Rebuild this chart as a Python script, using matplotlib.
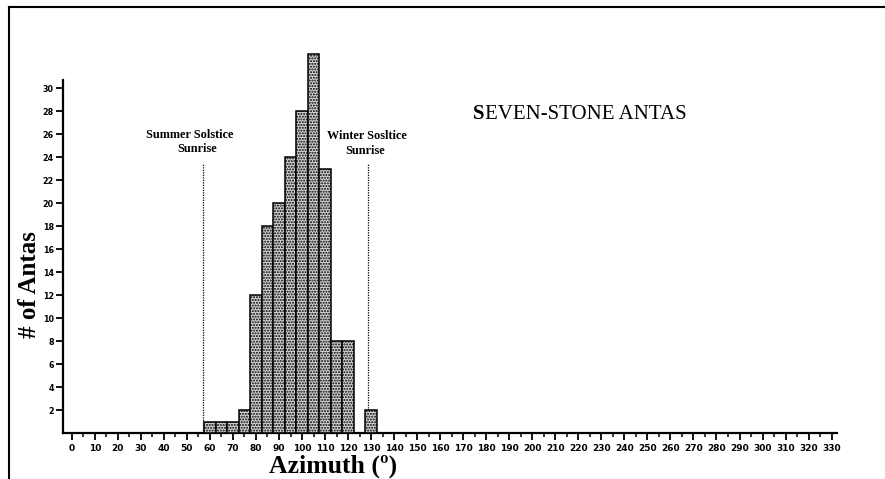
import matplotlib.pyplot as plt
import matplotlib.lines as mlines
import numpy as np

# azimuth bins (bin centres, 5 degree wide) and counts
azimuth = [60, 65, 70, 75, 80, 85, 90, 95, 100, 105, 110, 115, 120, 130]
counts = [1, 1, 1, 2, 12, 18, 20, 24, 28, 33, 23, 8, 8, 2]
bin_width = 5

x_ticks = list(range(0, 331, 10))
y_ticks = list(range(2, 31, 2))

summer_az, winter_az = 56.8, 128.6
marker_top = 23.5

serif = ['Liberation Serif', 'DejaVu Serif']

fig = plt.figure(figsize=(8.85, 4.79), dpi=100)
ax = fig.add_axes([0.0712, 0.096, 0.8742, 0.737])

ax.bar(azimuth, counts, width=bin_width, facecolor='#d4d4d4', edgecolor='black',
       linewidth=1.1, hatch='......', clip_on=False, zorder=3)

# solstice markers
ax.plot([summer_az, summer_az], [0, marker_top], color='black', lw=0.9, ls=(0, (1, 1)))
ax.plot([winter_az, winter_az], [0, marker_top], color='black', lw=0.9, ls=(0, (1, 1)))

label_kw = dict(ha='center', va='center', family=serif, fontweight='bold', fontsize=8.8)
ax.text(51.4, 25.9, 'Summer Solstice', **label_kw)
ax.text(54.6, 24.7, 'Sunrise', **label_kw)
ax.text(128.2, 25.85, 'Winter Sosltice', **label_kw)
ax.text(127.6, 24.5, 'Sunrise', **label_kw)

t = ax.text(174.3, 27.35, 'S', family=serif, fontweight='bold', fontsize=15,
            ha='left', va='baseline')
ax.annotate('EVEN-STONE ANTAS', xy=(1, 0), xycoords=t, family=serif,
            fontsize=15, ha='left', va='bottom')

ax.set_xlim(-3.8, 332.2)
ax.set_ylim(0, 30.7)
ax.set_xticks(x_ticks)
ax.set_xticks(np.arange(5, 331, 10), minor=True)
ax.set_yticks(y_ticks)

for side in ['top', 'right']:
    ax.spines[side].set_visible(False)
for side in ['left', 'bottom']:
    ax.spines[side].set_linewidth(1.6)

ax.tick_params(axis='x', which='major', length=5, width=1.3, pad=3, labelsize=6.5)
ax.tick_params(axis='x', which='minor', length=3, width=1.1)
ax.tick_params(axis='y', length=5, width=1.3, pad=1.5, labelsize=5.8)
for lab in ax.get_xticklabels() + ax.get_yticklabels():
    lab.set_fontweight('bold')

ax.set_xlabel('Azimuth (º)', family=serif, fontweight='bold', fontsize=18.5)
ax.set_ylabel('# of Antas', family=serif, fontweight='bold', fontsize=18)
ax.xaxis.set_label_coords(0.349, -0.062)
ax.yaxis.set_label_coords(-0.029, 0.42)

# frame lines of the scanned page
fig.add_artist(mlines.Line2D([9 / 885, 9 / 885], [0, 1 - 7 / 479],
                             transform=fig.transFigure, color='black', lw=1.5))
fig.add_artist(mlines.Line2D([9 / 885, 1], [1 - 7 / 479, 1 - 7 / 479],
                             transform=fig.transFigure, color='black', lw=1.5))

fig.savefig('out.png', dpi=100)
